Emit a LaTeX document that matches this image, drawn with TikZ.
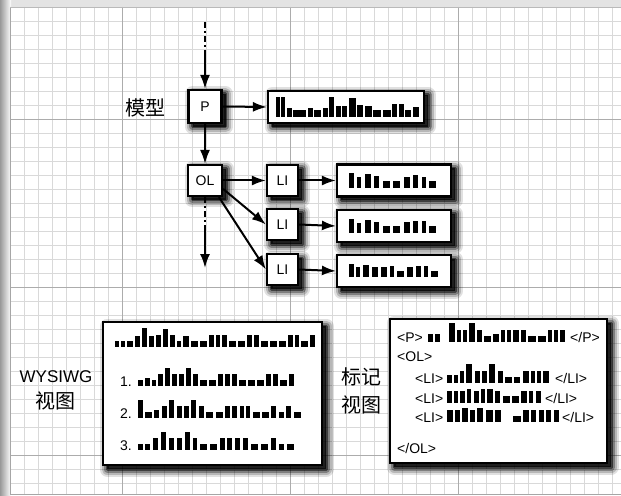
\documentclass[tikz,border=0pt]{standalone}
\usepackage{fontspec}
\setmainfont{Liberation Sans}
\newfontfamily\cjk{Noto Sans CJK SC}
\usetikzlibrary{arrows.meta}

% #1 start x, #2 baseline y, #3 gap, #4 list of width/height
\newcommand\drawbars[4]{%
  \xdef\bxpos{#1}%
  \foreach \bw/\bh in {#4}{%
    \fill[black] ({\bxpos-0.5},#2) rectangle ++({\bw+1},-\bh);
    \pgfmathsetmacro\bxnext{\bxpos+\bw+#3}%
    \global\let\bxpos\bxnext
  }%
}

\begin{document}
\begin{tikzpicture}[x=1bp,y=-1bp,
  shlayer/.style 2 args={preaction={draw=black, fill=black, line width=#1, opacity=#2, line join=round,
     transform canvas={shift={(4bp,-4bp)}}}},
  box/.style={draw=black, line width=2.2bp, fill=white, inner sep=0pt,
    font=\fontsize{14bp}{16bp}\selectfont,
    shlayer={15bp}{0.12}, shlayer={11bp}{0.18}, shlayer={7bp}{0.3}, shlayer={3bp}{0.5}},
  tag/.style={font=\fontsize{14bp}{16bp}\selectfont, inner sep=0pt, anchor=base west},
  cjklabel/.style={font=\cjk\fontsize{20bp}{22bp}\selectfont, inner sep=0pt},
  conn/.style={line width=2bp, -{Latex[length=14bp,width=10bp]}},
  dashconn/.style={line width=2bp, dash pattern=on 6bp off 3bp on 2bp off 3bp},
  fine/.style={gray!30, line width=0.7bp},
  coarse/.style={gray!65, line width=0.9bp}
]
\useasboundingbox (0,0) rectangle (621,496);
% paper
\fill[white] (0,0) rectangle (621,496);
\fill[gray!22] (0,0) rectangle (621,7);
\shade[left color=gray!80, right color=white] (0,0) rectangle (11,496);
% grid
\foreach \i in {0,...,43} \draw[fine] ({10+14*\i},7) -- ({10+14*\i},494);
\foreach \j in {0,...,34} \draw[fine] (10,{7+14*\j}) -- (621,{7+14*\j});
\foreach \i in {122,290,458} \draw[coarse] (\i,7) -- (\i,494);
\foreach \j in {119,287,455} \draw[coarse] (10,\j) -- (621,\j);
\draw[gray!70, line width=0.8bp] (10,7) -- (10,494) -- (621,494);
\draw[gray!55, line width=0.8bp] (10,7) -- (621,7);

% model tree
\node[cjklabel] (mlabel) at (145,108) {模型};
\node[box, minimum width=33bp, minimum height=33bp] (P) at (205,106.5) {P};
\node[box, minimum width=156bp, minimum height=32bp] (PB) at (346,107) {};
\node[box, minimum width=34bp, minimum height=31bp] (OL) at (205,180.5) {OL};
\node[box, minimum width=31bp, minimum height=31bp] (LI1) at (282.5,180.5) {LI};
\node[box, minimum width=31bp, minimum height=31bp] (LI2) at (282.5,224.5) {LI};
\node[box, minimum width=31bp, minimum height=31bp] (LI3) at (282.5,269.5) {LI};
\node[box, minimum width=114bp, minimum height=32bp] (B1) at (394,180.5) {};
\node[box, minimum width=114bp, minimum height=32bp] (B2) at (394,226) {};
\node[box, minimum width=114bp, minimum height=32bp] (B3) at (394,271) {};

\drawbars{276}{117}{2.5}{3/20,3/20,4/9,12/7,4/9,6/7,4/9,4/20,4/11,4/11,6/19,5/12,6/11,7/7,7/7,4/13,4/13,5/7,5/10}
\drawbars{349}{188}{4.5}{4/15,3/11,5/14,4/12,6/7,6/7,5/11,4/13,3/11,6/7}
\drawbars{349}{233}{4.5}{4/14,3/10,5/13,4/11,6/7,6/7,5/11,4/12,3/12,6/7}
\drawbars{349}{277}{3.9}{4/13,3/10,5/12,5/10,5/10,3/11,6/6,5/10,4/11,3/11,6/6}

% connectors of the tree
\coordinate (top) at (205,22);
\coordinate (topm) at (205,56);
\draw[dashconn] (top) -- (topm);
\draw[conn] (topm) -- (P.north);
\draw[conn] (P.east) -- (PB.west);
\draw[conn] (P.south) -- (OL.north);
\coordinate (olm) at (205,230);
\coordinate (olend) at (205,268);
\draw[dashconn] (OL.south) -- (olm);
\draw[conn] (olm) -- (olend);
\draw[conn] (OL.east) -- (LI1.west);
\draw[conn] (OL.-25) -- (LI2.west);
\draw[conn] (OL.-50) -- (LI3.west);
\draw[conn] (LI1.east) -- (B1.west);
\draw[conn] (LI2.east) -- (B2.west);
\draw[conn] (LI3.east) -- (B3.west);

% WYSIWYG view
\node[font=\fontsize{17bp}{19bp}\selectfont, inner sep=0pt] (wlabel) at (56,377) {WYSIWG};
\node[cjklabel] (wlabel2) at (55,401) {视图};
\node[box, minimum width=219bp, minimum height=143bp] (WY) at (212.5,393.5) {};
\drawbars{115}{347}{3}{3/6,3/6,5/6,4/11,4/19,4/11,4/12,4/18,4/12,3/6,5/11,6/6,6/6,4/12,3/12,4/12,6/6,6/6,4/12,4/12,6/6,6/6,6/6,4/12,3/12,6/6,4/12}
\node[tag] (n1) at (120,386) {1.};
\drawbars{138}{386}{3}{4/6,4/8,3/6,4/12,4/18,4/12,4/12,4/18,4/12,6/6,6/6,4/12,4/12,4/12,6/6,6/6,6/6,4/12,4/12,6/6,4/12}
\node[tag] (n2) at (120,418) {2.};
\drawbars{138}{418}{3.4}{4/18,6/6,4/8,4/12,4/18,4/12,4/12,4/18,4/12,6/6,6/6,4/12,4/12,3/12,3/12,6/6,6/6,4/12,4/6,4/12,6/6}
\node[tag] (n3) at (120,450) {3.};
\drawbars{138}{450}{3.9}{4/6,4/6,4/12,4/18,4/12,4/12,4/18,3/12,6/6,6/6,4/12,4/12,4/12,4/12,6/6,6/6,4/12,4/6,6/6}

% markup view
\node[cjklabel] (klabel) at (361,377) {标记};
\node[cjklabel] (klabel2) at (361,405) {视图};
\node[box, minimum width=217bp, minimum height=144bp] (MK) at (498.5,391) {};
\node[tag] (t1) at (397,342) {<P>};
\drawbars{428}{342}{3}{4/8,4/8}
\drawbars{449}{342}{3}{5/19,3/12,3/12,5/19,4/12,6/6,5/8,3/12,3/12,5/12,4/12,7/6,7/6,3/12,3/12,4/12}
\node[tag] (t2) at (570,342) {</P>};
\node[tag] (t3) at (397,361) {<OL>};
\node[tag] (t4) at (415,383) {<LI>};
\drawbars{447}{383}{3.3}{4/8,3/8,3/12,5/19,4/12,4/12,5/19,4/12,6/6,5/6,5/12,3/12,3/12,5/12}
\node[tag] (t5) at (555,383) {</LI>};
\node[tag] (t6) at (415,403) {<LI>};
\drawbars{447}{403}{3.25}{4/12,3/12,4/12,3/14,4/12,3/14,5/14,4/12,6/7,6/7,5/12,3/12,4/12}
\node[tag] (t7) at (545,403) {</LI>};
\node[tag] (t8) at (415,422) {<LI>};
\drawbars{447}{422}{3.2}{5/12,4/12,5/14,4/12,5/14,6/12,5/12}
\drawbars{513}{422}{3.4}{7/6,5/12,4/12,4/12,4/12,4/12}
\node[tag] (t9) at (562,422) {</LI>};
\node[tag] (t10) at (397,453) {</OL>};
\end{tikzpicture}
\end{document}
